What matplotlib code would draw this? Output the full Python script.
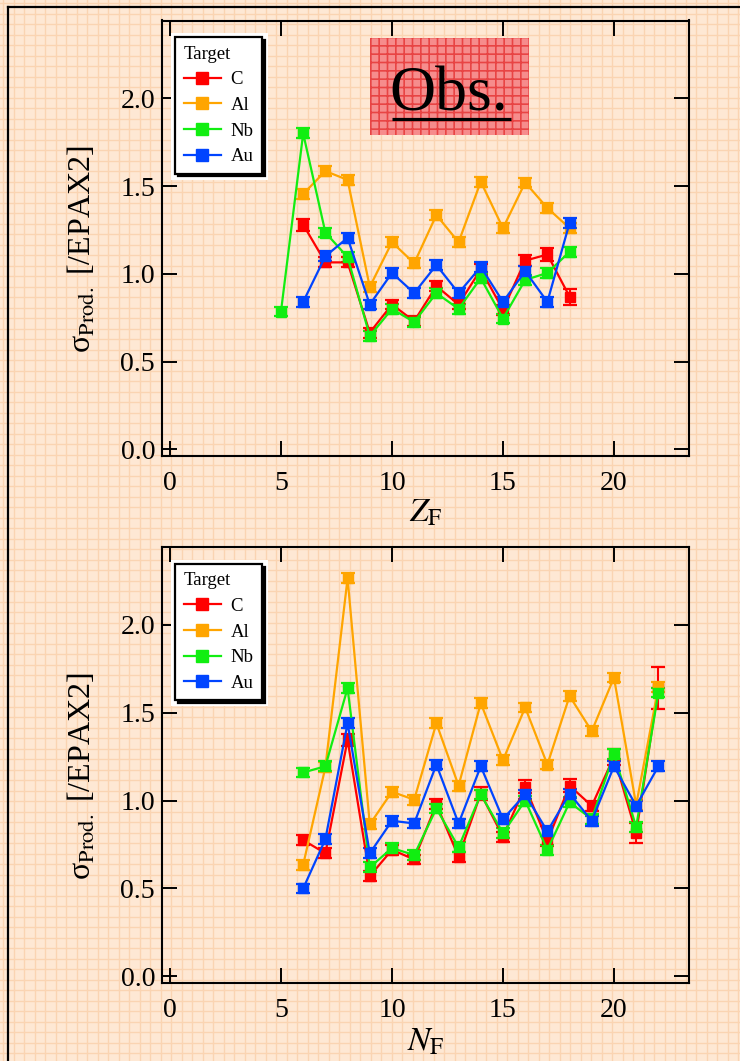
import numpy as np
import matplotlib
matplotlib.use('Agg')
import matplotlib.pyplot as plt
from matplotlib.lines import Line2D
from matplotlib.patches import Rectangle

plt.rcParams['font.family'] = ['Liberation Serif', 'DejaVu Serif']
plt.rcParams['mathtext.fontset'] = 'stix'
plt.rcParams['hatch.linewidth'] = 1.2

# ---------------- data ----------------
targets = ['C', 'Al', 'Nb', 'Au']
colors = ['#FF0000', '#FFA500', '#11EE11', '#0044FF']

# Top panel: fragment Z
zC = [6, 7, 8, 9, 10, 11, 12, 13, 14, 15, 16, 17, 18]
vC_z = [1.28, 1.065, 1.065, 0.665, 0.825, 0.73, 0.93, 0.825, 1.025, 0.795, 1.075, 1.11, 0.87]
eC_z = [0.035, 0.028, 0.028, 0.028, 0.028, 0.028, 0.03, 0.028, 0.03, 0.03, 0.03, 0.038, 0.045]
zAl = [6, 7, 8, 9, 10, 11, 12, 13, 14, 15, 16, 17, 18]
vAl_z = [1.455, 1.585, 1.535, 0.925, 1.18, 1.06, 1.335, 1.18, 1.525, 1.26, 1.52, 1.375, 1.26]
eAl_z = [0.028] * 13
zNb = [5, 6, 7, 8, 9, 10, 11, 12, 13, 14, 15, 16, 17, 18]
vNb_z = [0.785, 1.80, 1.235, 1.095, 0.645, 0.80, 0.725, 0.89, 0.80, 0.975, 0.745, 0.965, 1.005, 1.125]
eNb_z = [0.028] * 14
zAu = [6, 7, 8, 9, 10, 11, 12, 13, 14, 15, 16, 17, 18]
vAu_z = [0.84, 1.10, 1.205, 0.825, 1.005, 0.89, 1.05, 0.89, 1.04, 0.84, 1.015, 0.84, 1.29]
eAu_z = [0.028] * 13

# Bottom panel: fragment N
nAll = [6, 7, 8, 9, 10, 11, 12, 13, 14, 15, 16, 17, 18, 19, 20, 21, 22]
vC_n = [0.775, 0.70, 1.345, 0.57, 0.72, 0.665, 0.98, 0.68, 1.04, 0.795, 1.08, 0.77, 1.085, 0.97, 1.25, 0.815, 1.64]
eC_n = [0.03, 0.028, 0.035, 0.028, 0.028, 0.028, 0.03, 0.028, 0.035, 0.028, 0.035, 0.028, 0.035, 0.028, 0.045, 0.055, 0.12]
vAl_n = [0.635, 1.19, 2.265, 0.865, 1.05, 1.005, 1.44, 1.085, 1.555, 1.23, 1.53, 1.205, 1.595, 1.395, 1.70, 0.975, 1.645]
eAl_n = [0.028] * 17
vNb_n = [1.16, 1.195, 1.64, 0.62, 0.73, 0.69, 0.955, 0.735, 1.035, 0.815, 1.0, 0.72, 0.99, 0.895, 1.265, 0.85, 1.615]
eNb_n = [0.028] * 17
vAu_n = [0.50, 0.78, 1.44, 0.70, 0.885, 0.87, 1.205, 0.87, 1.195, 0.895, 1.035, 0.825, 1.04, 0.885, 1.195, 0.97, 1.195]
eAu_n = [0.028] * 17

xticks = [0, 5, 10, 15, 20]
yticks = [0.0, 0.5, 1.0, 1.5, 2.0]
ytick_labels = ['0.0', '0.5', '1.0', '1.5', '2.0']

top_series = [(zC, vC_z, eC_z), (zAl, vAl_z, eAl_z), (zNb, vNb_z, eNb_z), (zAu, vAu_z, eAu_z)]
bot_series = [(nAll, vC_n, eC_n), (nAll, vAl_n, eAl_n), (nAll, vNb_n, eNb_n), (nAll, vAu_n, eAu_n)]

# ---------------- figure ----------------
W, H = 740, 1061
fig = plt.figure(figsize=(W / 100, H / 100), dpi=100)
fig.patch.set_facecolor('#FEE8D4')

# graph-paper background
bg = fig.add_axes([0, 0, 1, 1], zorder=-10)
bg.set_xlim(0, W)
bg.set_ylim(H, 0)
bg.axis('off')
for g in np.arange(3, W, 10.5):
    bg.axvline(g, color='#FAD4B2', lw=1.0)
for g in np.arange(3, H, 10.5):
    bg.axhline(g, color='#FAD4B2', lw=1.0)
bg.plot([8, 8], [7, H], color='black', lw=1.6)
bg.plot([8, W], [7, 7], color='black', lw=1.6)

def make_axes(top_px, bot_px):
    left_px, right_px = 162, 689
    ax = fig.add_axes([left_px / W, 1 - bot_px / H, (right_px - left_px) / W, (bot_px - top_px) / H])
    ax.set_facecolor('none')
    ax.set_xlim(-0.36, 23.38)
    ax.set_ylim(-0.038, 2.443)
    ax.set_xticks(xticks)
    ax.set_yticks(yticks)
    ax.set_yticklabels(ytick_labels)
    ax.tick_params(axis='both', which='major', direction='in', length=11, width=1.4,
                   top=True, right=True, labelsize=20, color='black')
    ax.tick_params(axis='x', pad=11)
    ax.tick_params(axis='y', pad=5)
    for s in ax.spines.values():
        s.set_linewidth(1.5)
    return ax

ax1 = make_axes(20.5, 456)
ax2 = make_axes(547, 983)

def draw(ax, series):
    for (x, v, e), c in zip(series, colors):
        ax.errorbar(x, v, yerr=e, color=c, lw=1.6, marker='s', ms=6.8, mec=c, mfc=c,
                    capsize=5, capthick=1.6, elinewidth=1.5)

draw(ax1, top_series)
draw(ax2, bot_series)

ylab = 'σ' + r'$_{\rm Prod.}$' + ' [/EPAX2]'
for ax, xl, ylpos in [(ax1, r'$Z_{\rm F}$', -0.097), (ax2, r'$N_{\rm F}$', -0.101)]:
    ax.set_ylabel(ylab, fontsize=23)
    ax.yaxis.set_label_coords(-0.121, 0.475)
    ax.set_xlabel(xl, fontsize=24, va='top')
    ax.xaxis.set_label_coords(0.5, ylpos)

handles = [Line2D([0], [0], color=c, lw=1.6, marker='s', ms=9, mfc=c, mec=c) for c in colors]
legs = []
for ax in (ax1, ax2):
    leg = ax.legend(handles, targets, title='Target', loc='upper left',
                    bbox_to_anchor=(0.025, 0.961), borderaxespad=0, fontsize=13.5,
                    title_fontsize=13.5, alignment='left', fancybox=False, framealpha=1,
                    edgecolor='black', facecolor='white', shadow={'color': 'black', 'alpha': 1},
                    borderpad=0.45, handlelength=2.0, handletextpad=0.5, labelspacing=0.45)
    leg.get_frame().set_linewidth(1.6)
    legs.append(leg)

# Obs. label box
ax1.add_patch(Rectangle((0.394, 0.736), 0.303, 0.223, transform=ax1.transAxes,
                        facecolor='#F68C8C', edgecolor='#E84444', hatch='++', lw=0, zorder=1))
ax1.text(0.545, 0.794, 'Obs.', transform=ax1.transAxes, ha='center', va='baseline',
         fontsize=46, color='black', zorder=3)
ax1.plot([0.436, 0.663], [0.774, 0.774], transform=ax1.transAxes, color='black', lw=2.3,
         solid_capstyle='butt', zorder=3)

# white margin around the legends
fig.canvas.draw()
for ax, leg in zip((ax1, ax2), legs):
    bb = leg.get_window_extent()
    inv = ax.transAxes.inverted()
    (x0, y0) = inv.transform((bb.x0 - 4, bb.y0 - 6))
    (x1, y1) = inv.transform((bb.x1 + 6, bb.y1 + 4))
    ax.add_patch(Rectangle((x0, y0), x1 - x0, y1 - y0, transform=ax.transAxes,
                           facecolor='white', edgecolor='none', zorder=4.5))

fig.savefig('out.png', dpi=100, facecolor=fig.get_facecolor())
